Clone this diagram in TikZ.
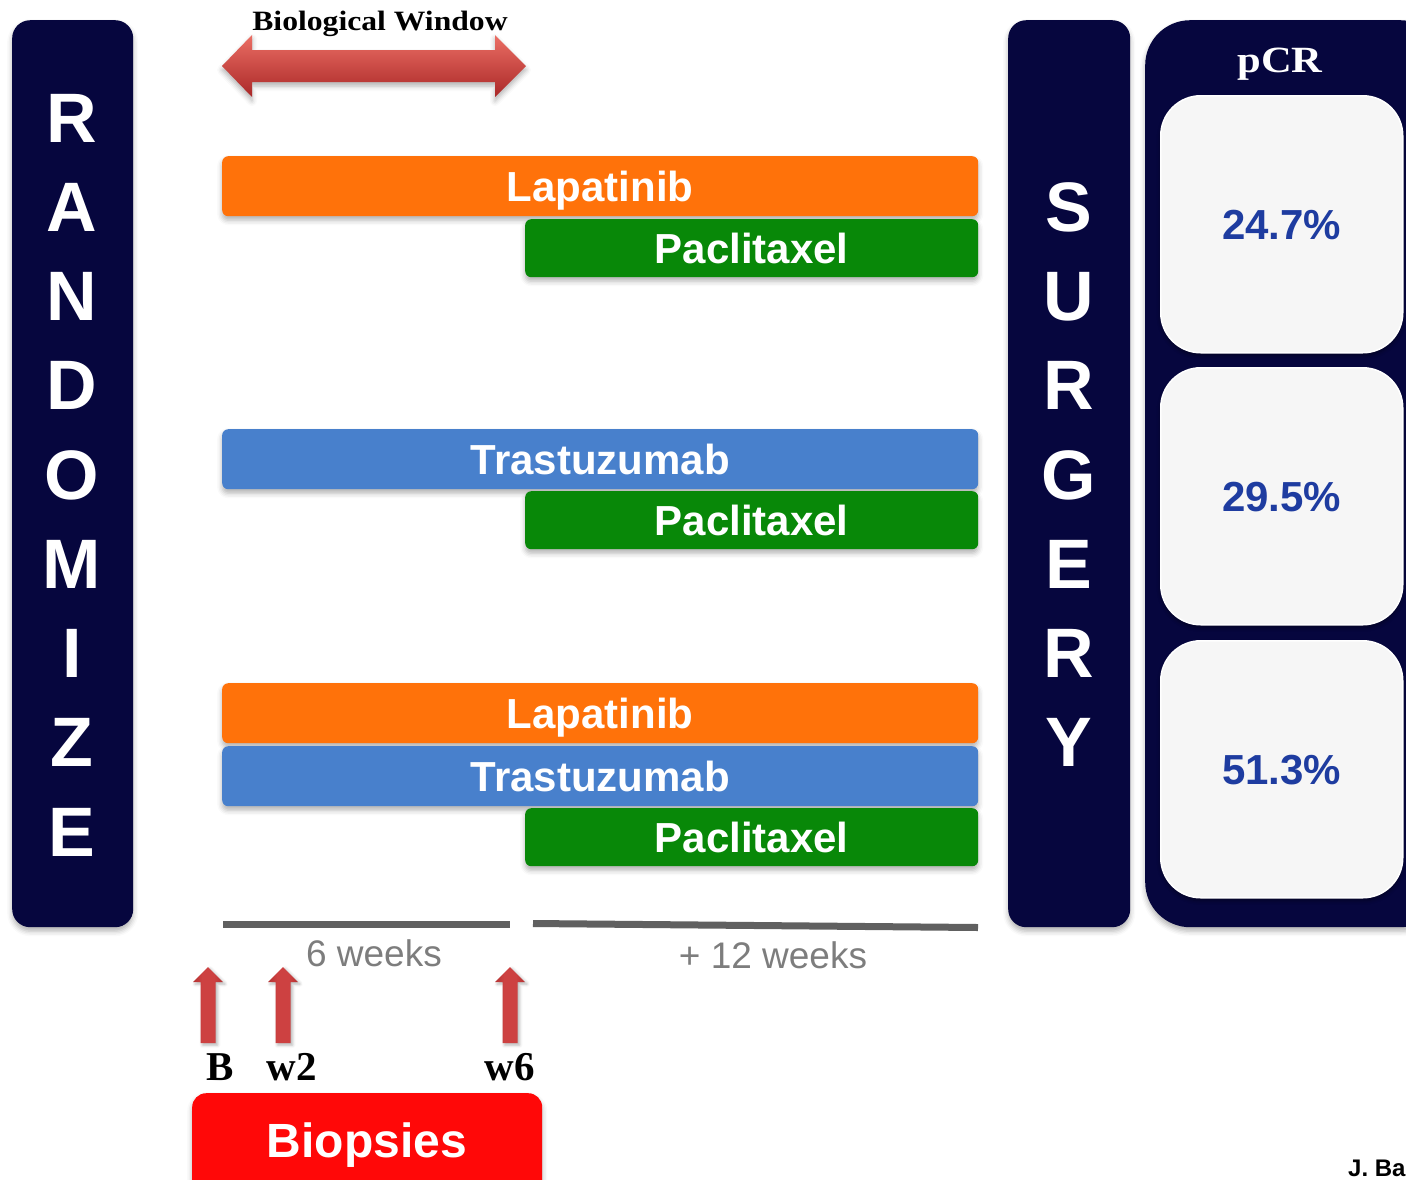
\documentclass[tikz,border=0pt]{standalone}
\usepackage{fontspec}
\setmainfont{Liberation Serif}
\setsansfont{Liberation Sans}
\usetikzlibrary{shadows.blur}

\definecolor{navy}{RGB}{6,6,62}
\definecolor{orangebar}{RGB}{255,114,10}
\definecolor{orangehi}{RGB}{255,170,100}
\definecolor{orangelo}{RGB}{225,95,5}
\definecolor{greenbar}{RGB}{8,136,8}
\definecolor{greenhi}{RGB}{90,205,80}
\definecolor{greenlo}{RGB}{5,105,5}
\definecolor{bluebar}{RGB}{72,128,204}
\definecolor{bluehi}{RGB}{140,190,245}
\definecolor{bluelo}{RGB}{55,100,170}
\definecolor{pctblue}{RGB}{30,60,160}
\definecolor{arrowred}{RGB}{214,64,58}
\definecolor{arrowhi}{RGB}{235,110,100}
\definecolor{arrowlo}{RGB}{170,40,40}
\definecolor{markred}{RGB}{205,65,65}
\definecolor{markdark}{RGB}{140,25,25}
\definecolor{biopsyred}{RGB}{255,8,8}
\definecolor{biopsyhi}{RGB}{255,110,100}
\definecolor{rulegray}{RGB}{96,96,96}
\definecolor{labelgray}{RGB}{125,125,125}
\definecolor{resultbg}{RGB}{246,246,246}

% flat bar fills with a thin highlight at the top and a darker bottom rim
\pgfdeclareverticalshading{orangeglow}{100bp}{color(0bp)=(orangelo); color(12bp)=(orangebar);
  color(84bp)=(orangebar); color(95bp)=(orangehi); color(100bp)=(orangehi)}
\pgfdeclareverticalshading{greenglow}{100bp}{color(0bp)=(greenlo); color(12bp)=(greenbar);
  color(84bp)=(greenbar); color(95bp)=(greenhi); color(100bp)=(greenhi)}
\pgfdeclareverticalshading{blueglow}{100bp}{color(0bp)=(bluelo); color(12bp)=(bluebar);
  color(84bp)=(bluebar); color(95bp)=(bluehi); color(100bp)=(bluehi)}
\pgfdeclareverticalshading{redglow}{100bp}{color(0bp)=(biopsyred); color(85bp)=(biopsyred);
  color(96bp)=(biopsyhi); color(100bp)=(biopsyhi)}
\pgfdeclarehorizontalshading{markglow}{100bp}{color(0bp)=(markdark); color(40bp)=(markred);
  color(60bp)=(markred); color(100bp)=(markdark)}

\begin{document}
\begin{tikzpicture}[x=1pt,y=-1pt,
  softshadow/.style={blur shadow={shadow xshift=0pt, shadow yshift=-4pt,
      shadow blur radius=5pt, shadow opacity=30}},
  panel/.style={fill=navy, rounded corners=18pt, inner sep=0pt, softshadow},
  bigletter/.style={text=white, inner sep=0pt,
      font=\sffamily\bfseries\fontsize{70}{70}\selectfont},
  bar/.style={rounded corners=6pt, inner sep=0pt, minimum height=60pt,
      anchor=north west, text=white, softshadow, text height=30pt, text depth=0pt,
      font=\sffamily\bfseries\fontsize{42}{42}\selectfont},
  lapbar/.style={bar, minimum width=756pt, shading=orangeglow},
  trasbar/.style={bar, minimum width=756pt, shading=blueglow},
  pacbar/.style={bar, minimum width=453pt, minimum height=58pt, shading=greenglow},
  result/.style={fill=resultbg, draw=white, line width=1.5pt, rounded corners=40pt,
      minimum width=242pt, minimum height=257pt, inner sep=0pt, anchor=north west,
      text height=30pt, text depth=0pt,
      text=pctblue, font=\sffamily\bfseries\fontsize{42}{42}\selectfont,
      blur shadow={shadow xshift=0pt, shadow yshift=-3pt, shadow blur radius=4pt, shadow opacity=40}},
  upmark/.style={shading=markglow, draw=none},
  timelabel/.style={font=\rmfamily\bfseries\fontsize{41}{41}\selectfont, text=black, inner sep=0pt},
  weeklabel/.style={font=\sffamily\fontsize{37}{37}\selectfont, text=labelgray, inner sep=0pt},
  rule/.style={rulegray, line width=7pt}
]
\clip (0,0) rectangle (1406,1179);

% ---- left panel: RANDOMIZE ----
\node[panel, minimum width=121pt, minimum height=907pt, anchor=north west] (randpanel) at (12,20) {};
\foreach \l [count=\i] in {R,A,N,D,O,M,I,Z,E}
  \node[bigletter] (rand\i) at (72, {118+89.25*(\i-1)}) {\l};

% ---- SURGERY panel ----
\node[panel, minimum width=122pt, minimum height=907pt, anchor=north west] (surgpanel) at (1008,20) {};
\foreach \l [count=\i] in {S,U,R,G,E,R,Y}
  \node[bigletter] (surg\i) at (1069, {207+89.3*(\i-1)}) {\l};

% ---- pCR panel with results ----
\node[panel, rounded corners=45pt, minimum width=300pt, minimum height=907pt, anchor=north west] (pcrpanel) at (1145,20) {};
\node[text=white, inner sep=0pt, anchor=base] (pcr) at (1280,72)
  {\rmfamily\bfseries\fontsize{37}{37}\selectfont\scalebox{1.15}[1]{pCR}};
\node[result] (res1) at (1160,95) {24.7\%};
\node[result] (res2) at (1160,367) {29.5\%};
\node[result] (res3) at (1160,640) {51.3\%};

% ---- biological window ----
\node[inner sep=0pt, anchor=base] (biowin) at (380,30)
  {\rmfamily\bfseries\fontsize{28}{28}\selectfont\scalebox{1.13}[1]{Biological Window}};
\path[top color=arrowhi, middle color=arrowred, bottom color=arrowlo, softshadow]
  (222,66) -- (252,35) -- (252,50) -- (495,50) -- (495,35) -- (526,66)
  -- (495,97) -- (495,82) -- (252,82) -- (252,97) -- cycle;

% ---- treatment arms ----
\node[lapbar] (lap1) at (222,156) {Lapatinib};
\node[pacbar] (pac1) at (525,219) {Paclitaxel};

\node[trasbar] (tras2) at (222,429) {Trastuzumab};
\node[pacbar] (pac2) at (525,491) {Paclitaxel};

\node[lapbar] (lap3) at (222,683) {Lapatinib};
\node[trasbar] (tras3) at (222,746) {Trastuzumab};
\node[pacbar] (pac3) at (525,808) {Paclitaxel};

% ---- time scale ----
\coordinate (six0) at (223,924.5);
\coordinate (six1) at (510,924.5);
\coordinate (twe0) at (533,923.5);
\coordinate (twe1) at (978,927.5);
\draw[rule] (six0) -- (six1);
\draw[rule] (twe0) -- (twe1);
\node[weeklabel] (sixwk) at (374,953) {6 weeks};
\node[weeklabel] (twewk) at (773,955) {+ 12 weeks};

% ---- biopsy time points ----
\foreach \xc in {208,283,510}
  \path[upmark, blur shadow={shadow xshift=2pt, shadow yshift=-2pt, shadow blur radius=3pt, shadow opacity=30}]
    (\xc,967) -- (\xc+15,982) -- (\xc+7.5,982) -- (\xc+7.5,1043)
    -- (\xc-7.5,1043) -- (\xc-7.5,982) -- (\xc-15,982) -- cycle;
\node[timelabel, anchor=base] (tB) at (220,1080) {B};
\node[timelabel, anchor=base] (tw2) at (292,1080) {w2};
\node[timelabel, anchor=base] (tw6) at (510,1080) {w6};

\node[rounded corners=14pt, inner sep=0pt, minimum width=350pt, minimum height=120pt,
      anchor=north west, shading=redglow, softshadow] (biopsies) at (192,1093) {};
\node[text=white, inner sep=0pt, font=\sffamily\bfseries\fontsize{48}{48}\selectfont, anchor=base]
  (biotxt) at (367,1157) {Biopsies};

% ---- credit ----
\node[inner sep=0pt, anchor=base west, font=\sffamily\bfseries\fontsize{24}{24}\selectfont] (credit) at (1348,1176) {J. Ba};
\end{tikzpicture}
\end{document}
